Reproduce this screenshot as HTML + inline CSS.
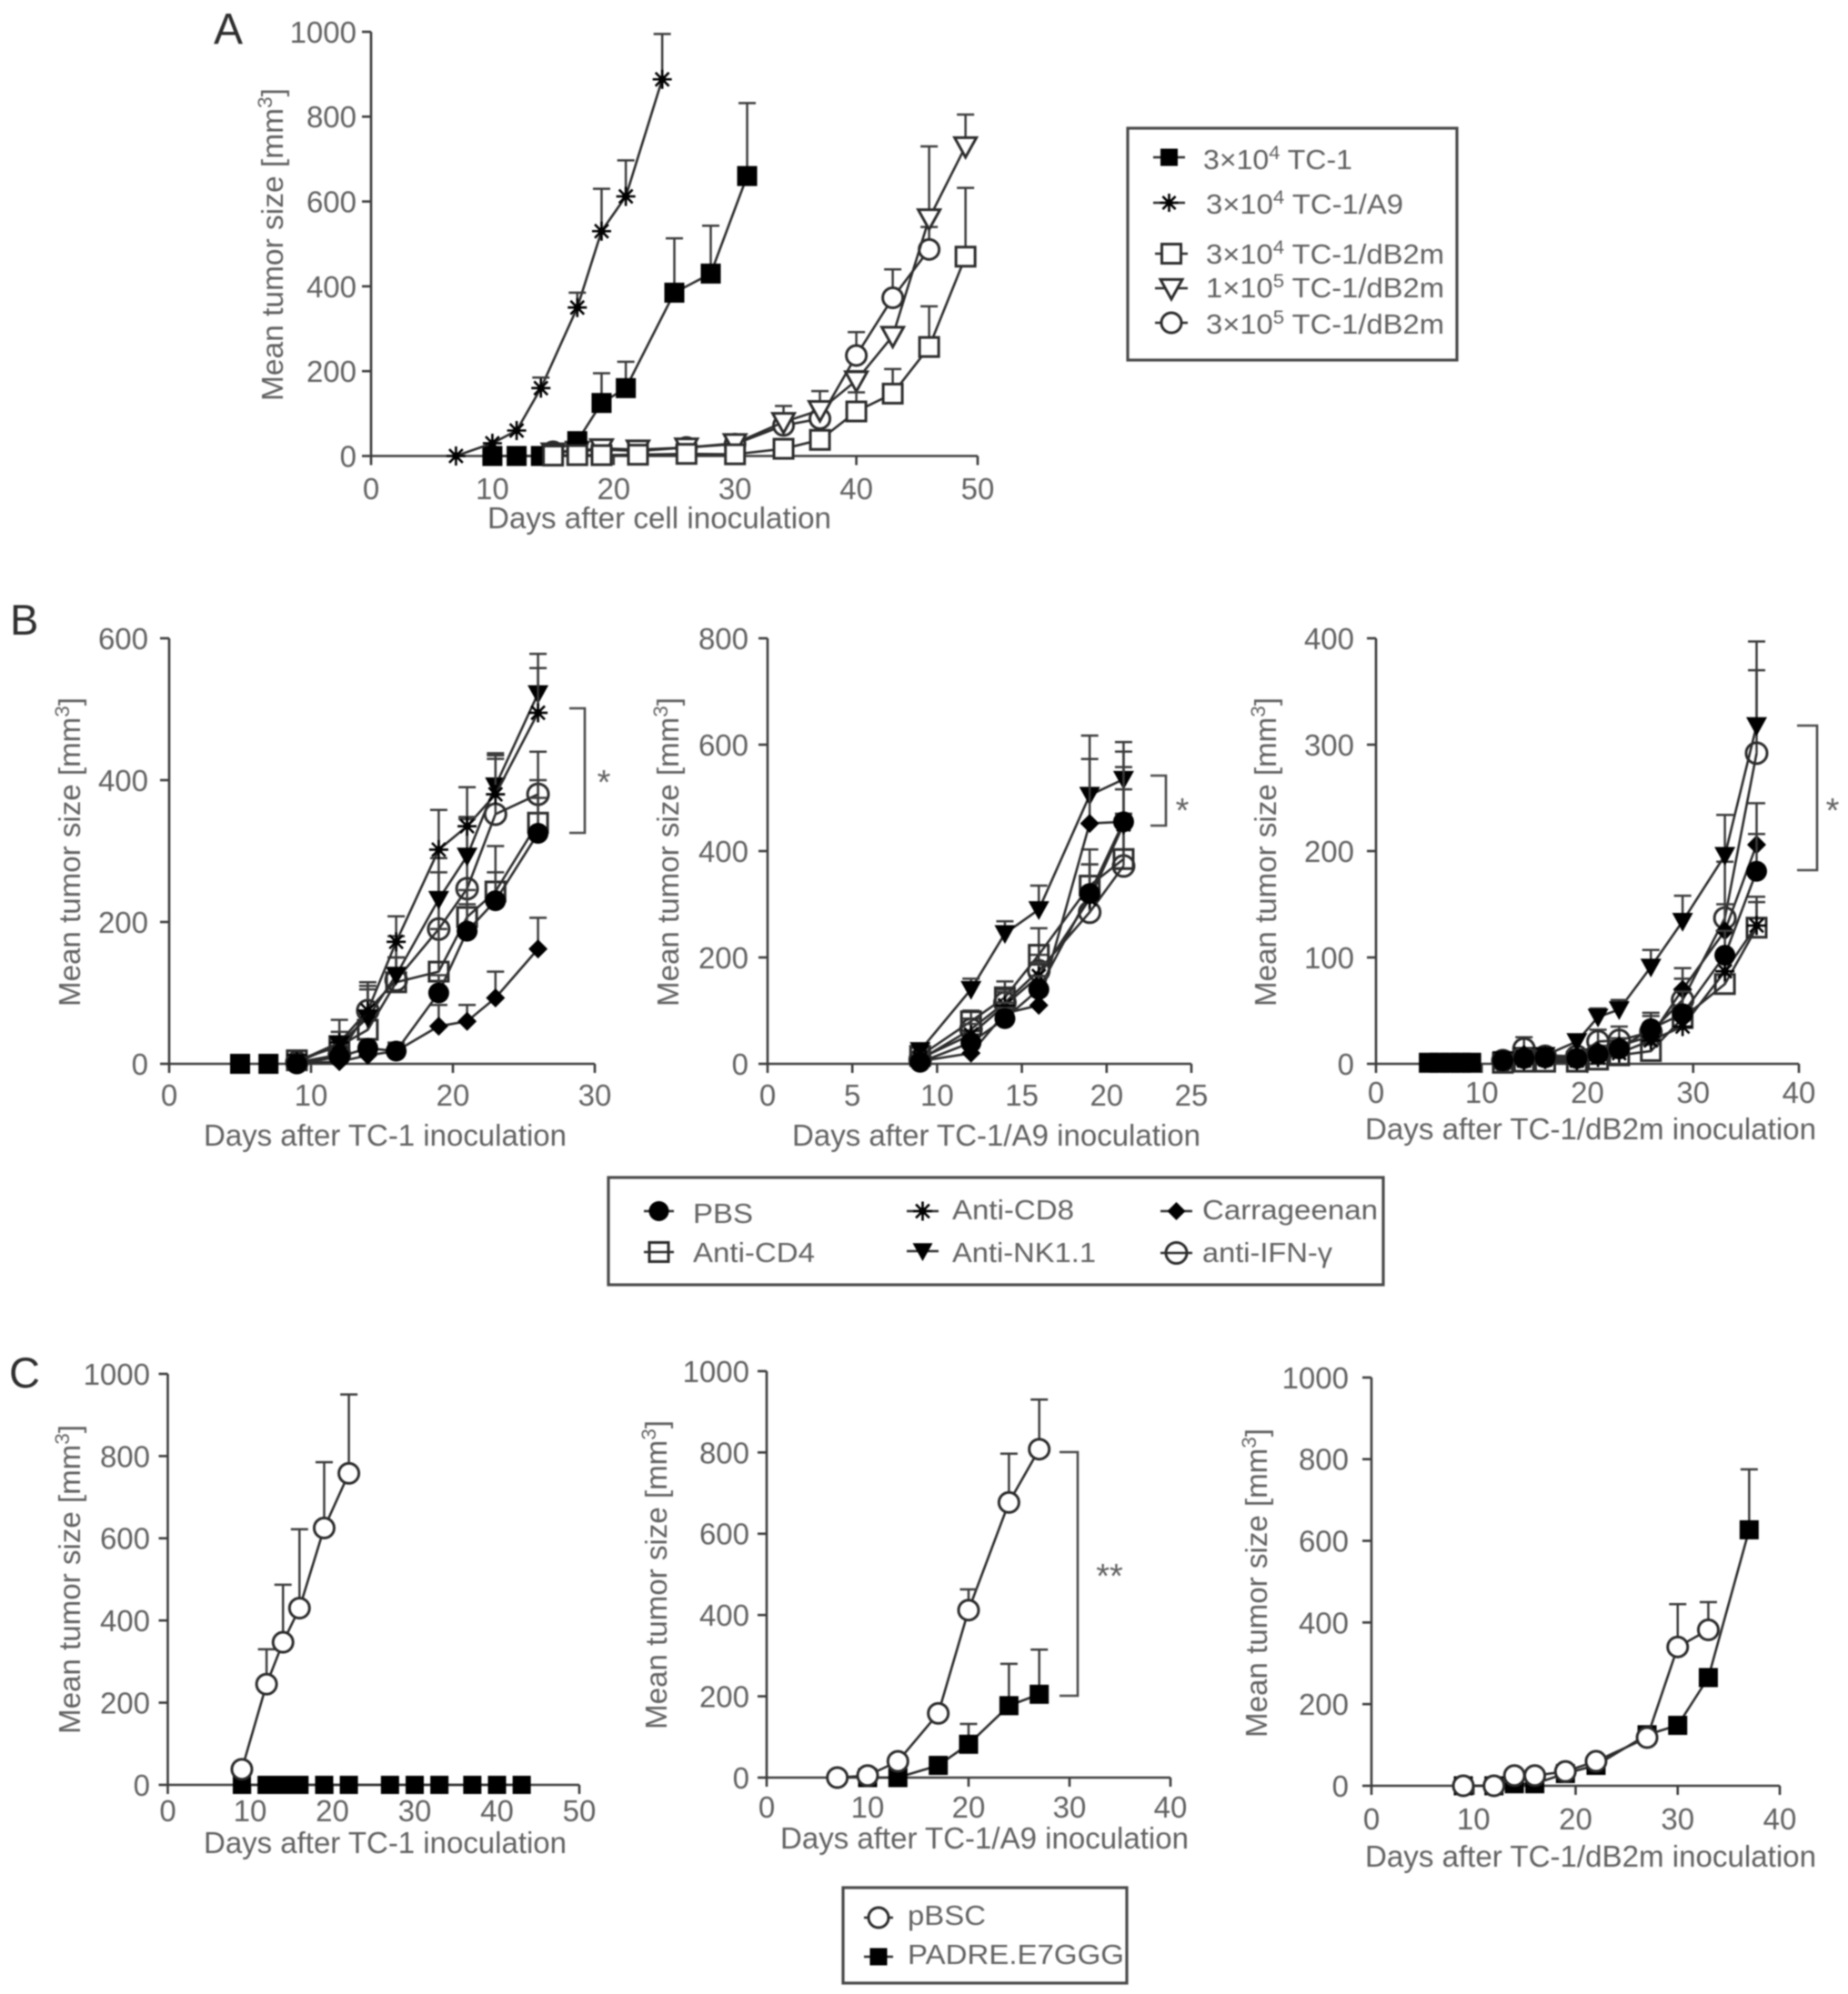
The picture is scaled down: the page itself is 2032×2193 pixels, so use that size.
<!DOCTYPE html>
<html lang="en">
<head>
<meta charset="utf-8">
<title>Mean tumor size charts</title>
<style>
html,body{margin:0;padding:0;background:#fff}
svg{display:block;filter:blur(.7px)}
text{font-family:"Liberation Sans",sans-serif;fill:#626262}
</style>
</head>
<body>
<svg id="figure" xmlns="http://www.w3.org/2000/svg" width="2032" height="2193" viewBox="0 0 2032 2193"></svg>
<script>
// ---------- Panel A data ----------
const aXTicks = [0, 10, 20, 30, 40, 50];
const aYTicks = [0, 200, 400, 600, 800, 1000];
const aTc1Days = [10, 12, 14, 17, 19, 21, 25, 28, 31];
const aTc1Means = [0, 0, 0, 35, 125, 160, 385, 430, 660];
const aTc1Tops = [null, null, null, null, 195, 222, 513, 543, 832];
const aA9Days = [7, 10, 12, 14, 17, 19, 21, 24];
const aA9Means = [0, 30, 60, 160, 350, 530, 612, 888];
const aA9Tops = [null, null, null, 185, 385, 630, 697, 995];
const aCircleDays = [15, 17, 19, 22, 26, 30, 34, 37, 40, 43, 46];
const aCircleMeans = [10, 12, 15, 12, 20, 28, 72, 88, 237, 373, 487];
const aCircleTops = [null, null, null, null, null, 35, 100, 120, 292, 440, 540];
const aTriDays = [15, 17, 19, 22, 26, 30, 34, 37, 40, 43, 46, 49];
const aTriMeans = [8, 12, 18, 15, 20, 30, 80, 108, 178, 283, 560, 730];
const aTriTops = [null, null, null, null, null, 40, 118, 153, 200, 298, 730, 805];
const aSquareDays = [15, 17, 19, 22, 26, 30, 34, 37, 40, 43, 46, 49];
const aSquareMeans = [1, 2, 2, 3, 5, 4, 17, 38, 105, 147, 257, 470];
const aSquareTops = [null, null, null, null, null, null, null, 50, 150, 205, 353, 632];

// ---------- Panel B data ----------
const b1XTicks = [0, 10, 20, 30];
const b1YTicks = [0, 200, 400, 600];
const b1BaseDays = [5, 7];
const b1BaseMeans = [0, 0];
const b1Days = [9, 12, 14, 16, 19, 21, 23, 26];
const b1Pbs = [0, 10, 22, 18, 100, 187, 230, 325];
const b1PbsTops = [null, 15, 30, 28, 125, 225, 270, 375];
const b1Cd4 = [5, 25, 48, 115, 130, 207, 243, 340];
const b1Cd4Tops = [12, 35, 70, 150, 190, 245, 307, 400];
const b1Cd8 = [3, 30, 75, 172, 302, 335, 380, 495];
const b1Cd8Tops = [10, 62, 115, 208, 358, 348, 435, 558];
const b1Nk = [2, 28, 65, 125, 232, 293, 392, 522];
const b1NkTops = [8, 45, 105, 180, 290, 390, 438, 578];
const b1Car = [1, 3, 12, 18, 53, 60, 93, 162];
const b1CarTops = [null, 8, 20, 30, 83, 83, 130, 206];
const b1Ifn = [2, 13, 75, 118, 190, 247, 352, 380];
const b1IfnTops = [8, 25, 110, 150, 270, 345, 430, 440];

const b2XTicks = [0, 5, 10, 15, 20, 25];
const b2YTicks = [0, 200, 400, 600, 800];
const b2Days = [9, 12, 14, 16, 19, 21];
const b2Pbs = [3, 40, 85, 140, 320, 455];
const b2PbsTops = [8, 55, 105, 165, 375, 470];
const b2Cd4 = [15, 80, 125, 205, 335, 385];
const b2Cd4Tops = [30, 100, 155, 255, 403, 470];
const b2Cd8 = [10, 55, 110, 165, 310, 450];
const b2Cd8Tops = [20, 75, 135, 190, 375, 516];
const b2Nk = [25, 140, 245, 290, 505, 535];
const b2NkTops = [35, 160, 268, 335, 617, 605];
const b2Car = [5, 20, 95, 110, 452, 455];
const b2CarTops = [10, 30, 115, 130, 573, 558];
const b2Ifn = [8, 65, 115, 175, 285, 372];
const b2IfnTops = [15, 85, 140, 205, 330, 587];

const b3XTicks = [0, 10, 20, 30, 40];
const b3YTicks = [0, 100, 200, 300, 400];
const b3BaseDays = [5, 6, 7, 8, 9];
const b3BaseMeans = [1, 1, 1, 1, 1];
const b3Days = [12, 14, 16, 19, 21, 23, 26, 29, 33, 36];
const b3Pbs = [3, 5, 6, 5, 9, 14, 33, 47, 102, 181];
const b3PbsTops = [6, 9, 10, 9, 13, 20, 45, 68, 125, 216];
const b3Cd4 = [1, 2, 2, 2, 4, 8, 12, 43, 75, 128];
const b3Cd4Tops = [4, 5, 5, 4, 7, 12, 18, 55, 100, 157];
const b3Cd8 = [2, 3, 4, 3, 6, 10, 22, 35, 87, 130];
const b3Cd8Tops = [5, 6, 7, 6, 9, 14, 30, 45, 105, 152];
const b3Nk = [4, 8, 8, 21, 44, 51, 91, 134, 196, 318];
const b3NkTops = [10, 14, 14, 27, 52, 60, 107, 158, 234, 397];
const b3Car = [4, 9, 8, 7, 12, 17, 26, 70, 125, 206];
const b3CarTops = [9, 14, 12, 12, 17, 24, 38, 90, 150, 245];
const b3Ifn = [3, 14, 7, 7, 21, 22, 30, 60, 137, 292];
const b3IfnTops = [8, 25, 14, 13, 32, 35, 48, 80, 190, 370];

// ---------- Panel C data ----------
const c1XTicks = [0, 10, 20, 30, 40, 50];
const c1YTicks = [0, 200, 400, 600, 800, 1000];
const c1PadreDays = [9, 12, 13, 14, 15, 16, 19, 22, 27, 30, 33, 37, 40, 43];
const c1PadreMeans = [0, 0, 0, 0, 0, 0, 0, 0, 0, 0, 0, 0, 0, 0];
const c1PbscDays = [9, 12, 14, 16, 19, 22];
const c1PbscMeans = [38, 245, 347, 430, 625, 758];
const c1PbscTops = [null, 330, 487, 622, 785, 950];

const c2XTicks = [0, 10, 20, 30, 40];
const c2YTicks = [0, 200, 400, 600, 800, 1000];
const c2PadreDays = [10, 13, 17, 20, 24, 27];
const c2PadreMeans = [0, 0, 30, 82, 177, 205];
const c2PadreTops = [null, null, null, 132, 280, 315];
const c2PbscDays = [7, 10, 13, 17, 20, 24, 27];
const c2PbscMeans = [0, 5, 40, 158, 412, 677, 808];
const c2PbscTops = [null, null, null, null, 463, 797, 930];

const c3XTicks = [0, 10, 20, 30, 40];
const c3YTicks = [0, 200, 400, 600, 800, 1000];
const c3PadreDays = [9, 12, 14, 16, 19, 22, 27, 30, 33, 37];
const c3PadreMeans = [0, 0, 5, 5, 30, 50, 125, 148, 265, 627];
const c3PadreTops = [null, null, null, null, null, null, null, null, null, 775];
const c3PbscDays = [9, 12, 14, 16, 19, 22, 27, 30, 33];
const c3PbscMeans = [0, 0, 25, 25, 35, 60, 118, 340, 382];
const c3PbscTops = [null, null, null, null, null, null, null, 445, 450];

// ---------- Drawing helpers ----------
const NS = 'http://www.w3.org/2000/svg';
const INK = '#2c2c2c';
const root = document.getElementById('figure');

function mk(tag, attrs, parent) {
  const el = document.createElementNS(NS, tag);
  for (const k in attrs) el.setAttribute(k, attrs[k]);
  (parent || root).appendChild(el);
  return el;
}

function group(name, parent) {
  const el = mk('g', {}, parent);
  
  
  return el;
}

function label(parent, name, str, x, y, size, opts) {
  const o = opts || {};
  const el = mk('text', { x: x, y: y, 'font-size': size, 'text-anchor': o.anchor || 'start' }, parent);
  
  
  if (o.rotate) el.setAttribute('transform', 'rotate(-90 ' + x + ' ' + y + ')');
  if (o.width) {
    el.setAttribute('textLength', o.width);
    el.setAttribute('lengthAdjust', 'spacingAndGlyphs');
  }
  if (o.dy) el.setAttribute('dy', o.dy);
  if (o.fill) el.style.fill = o.fill;
  if (o.sup) {
    el.appendChild(document.createTextNode(str));
    const s = mk('tspan', { dy: -size * 0.36, 'font-size': size * 0.68 }, el);
    s.textContent = o.sup;
    const after = mk('tspan', { dy: size * 0.36, 'font-size': size }, el);
    after.textContent = o.after || '';
  } else {
    el.textContent = str;
  }
  return el;
}

function marker(parent, kind, cx, cy, size, name) {
  const r = size / 2;
  const sw = 3;
  const g = mk('g', {}, parent);
  
  
  if (kind === 'fsquare') {
    mk('rect', { x: cx - r, y: cy - r, width: size, height: size, fill: '#000' }, g);
  } else if (kind === 'osquare' || kind === 'tsquare') {
    mk('rect', { x: cx - r, y: cy - r, width: size, height: size, fill: kind === 'osquare' ? '#fff' : 'none', stroke: INK, 'stroke-width': sw }, g);
  } else if (kind === 'fcircle') {
    mk('circle', { cx: cx, cy: cy, r: r, fill: '#000' }, g);
  } else if (kind === 'ocircle' || kind === 'tcircle') {
    mk('circle', { cx: cx, cy: cy, r: r, fill: kind === 'ocircle' ? '#fff' : 'none', stroke: INK, 'stroke-width': sw }, g);
  } else if (kind === 'otri') {
    mk('polygon', { points: [cx - r, cy - r * 0.8, cx + r, cy - r * 0.8, cx, cy + r].join(' '), fill: '#fff', stroke: INK, 'stroke-width': sw }, g);
  } else if (kind === 'ftri') {
    mk('polygon', { points: [cx - r, cy - r * 0.8, cx + r, cy - r * 0.8, cx, cy + r].join(' '), fill: '#000' }, g);
  } else if (kind === 'fdiamond') {
    mk('polygon', { points: [cx - r, cy, cx, cy - r, cx + r, cy, cx, cy + r].join(' '), fill: '#000' }, g);
  } else if (kind === 'star') {
    [0, 45, 90, 135].forEach(function (a) {
      const dx = Math.cos(a * Math.PI / 180) * r, dy = Math.sin(a * Math.PI / 180) * r;
      mk('line', { x1: cx - dx, y1: cy - dy, x2: cx + dx, y2: cy + dy, stroke: '#000', 'stroke-width': 2.6 }, g);
    });
    mk('circle', { cx: cx, cy: cy, r: r * 0.4, fill: '#000' }, g);
  }
}

function drawChart(p) {
  const g = group(p.name);
  const xMax = p.xTicks[p.xTicks.length - 1];
  const yMax = p.yTicks[p.yTicks.length - 1];
  const sx = function (v) { return p.x0 + (v / xMax) * (p.x1 - p.x0); };
  const sy = function (v) { return p.y0 - (v / yMax) * (p.y0 - p.y1); };
  const axes = group('axes', g);
  const axisStyle = { stroke: '#3c3c3c', 'stroke-width': 2.6, fill: 'none' };
  const xAxis = mk('line', Object.assign({ x1: p.x0, y1: p.y0, x2: p.x1, y2: p.y0 }, axisStyle), axes);
  
  
  const yAxis = mk('line', Object.assign({ x1: p.x0, y1: p.y0, x2: p.x0, y2: p.y1 }, axisStyle), axes);
  
  
  p.xTicks.forEach(function (t) {
    const tick = mk('line', Object.assign({ x1: sx(t), y1: p.y0, x2: sx(t), y2: p.y0 + 10 }, axisStyle), axes);
    
    
    label(axes, 'x-tick-label', String(t), sx(t), p.xLabelY, p.tickSize, { anchor: 'middle', dy: '.36em' });
  });
  p.yTicks.forEach(function (t) {
    const tick = mk('line', Object.assign({ x1: p.x0 - 10, y1: sy(t), x2: p.x0, y2: sy(t) }, axisStyle), axes);
    
    
    label(axes, 'y-tick-label', String(t), p.yLabelRight, sy(t), p.tickSize, { anchor: 'end', dy: '.36em' });
  });
  label(g, 'x-axis-title', p.xTitle, p.xTitleX, p.xTitleY, 33, { width: p.xTitleW, dy: '.36em' });
  label(g, 'y-axis-title', 'Mean tumor size [mm', p.yTitleX, p.yTitleBottom, 33, { rotate: true, width: p.yTitleH, sup: '3', after: ']' });

  p.series.forEach(function (s) {
    const sg = group('series-' + s.name, g);
    if (!s.noLine) {
      const line = mk('polyline', { points: s.days.map(function (d, i) { return sx(d) + ',' + sy(s.means[i]); }).join(' '), fill: 'none', stroke: INK, 'stroke-width': 2.6 }, sg);
      
      
    }
    if (s.tops) {
      s.days.forEach(function (d, i) {
        if (s.tops[i] === null) return;
        const bar = mk('path', { d: 'M' + sx(d) + ' ' + sy(s.means[i]) + 'V' + sy(s.tops[i]) + 'm-9.5 0h19', fill: 'none', stroke: '#3c3c3c', 'stroke-width': 2.5 }, sg);
        
        
      });
    }
    s.days.forEach(function (d, i) {
      marker(sg, s.kind, sx(d), sy(s.means[i]), s.size, 'data-point');
    });
  });
}

function bracket(name, xl, xr, yt, yb, stars, sx, sy) {
  const g = group(name);
  const b = mk('path', { d: 'M' + xl + ' ' + yt + 'H' + xr + 'V' + yb + 'H' + xl, fill: 'none', stroke: '#4a4a4a', 'stroke-width': 2.6 }, g);
  
  
  label(g, 'significance-stars', stars, sx, sy + 20, 38, { anchor: 'middle' });
}

function legendBox(name, x, y, w, h) {
  const g = group(name);
  const r = mk('rect', { x: x, y: y, width: w, height: h, fill: '#fff', stroke: '#4a4a4a', 'stroke-width': 3.2 }, g);
  
  
  return g;
}

function legendEntry(g, kind, size, lx1, lx2, my, text, tx, tWidth, base, sup, after) {
  const e = group('legend-entry', g);
  const l = mk('line', { x1: lx1, y1: my, x2: lx2, y2: my, stroke: INK, 'stroke-width': 2.4 }, e);
  
  
  marker(e, kind, (lx1 + lx2) / 2, my, size, 'legend-marker');
  label(e, 'legend-label', text, tx, base, 31, { width: tWidth, sup: sup, after: after });
}

// ---------- Panel letters ----------
label(root, 'panel-label-a', 'A', 235, 48, 48, { fill: '#2e2e2e' });
label(root, 'panel-label-b', 'B', 11, 698, 47, { fill: '#2e2e2e' });
label(root, 'panel-label-c', 'C', 10, 1526, 47, { fill: '#2e2e2e' });

// ---------- Panel A ----------
drawChart({
  name: 'panel-a-chart', x0: 408, x1: 1075, y0: 501.5, y1: 35,
  xTicks: aXTicks, yTicks: aYTicks, tickSize: 33, xLabelY: 537, yLabelRight: 392,
  xTitle: 'Days after cell inoculation', xTitleX: 536, xTitleY: 569, xTitleW: 378,
  yTitleX: 311, yTitleBottom: 441, yTitleH: 344,
  series: [
    { name: 'dB2m-3e5', kind: 'ocircle', size: 22, days: aCircleDays, means: aCircleMeans, tops: aCircleTops },
    { name: 'dB2m-1e5', kind: 'otri', size: 24, days: aTriDays, means: aTriMeans, tops: aTriTops },
    { name: 'tc1', kind: 'fsquare', size: 22, days: aTc1Days, means: aTc1Means, tops: aTc1Tops },
    { name: 'tc1-a9', kind: 'star', size: 21, days: aA9Days, means: aA9Means, tops: aA9Tops },
    { name: 'dB2m-3e4', kind: 'osquare', size: 21, days: aSquareDays, means: aSquareMeans, tops: aSquareTops }
  ]
});

// ---------- Panel B ----------
function treatmentSeries(days, pbs, pbsT, cd4, cd4T, cd8, cd8T, nk, nkT, car, carT, ifn, ifnT) {
  return [
    { name: 'anti-ifn-gamma', kind: 'tcircle', size: 23, days: days, means: ifn, tops: ifnT },
    { name: 'anti-cd4', kind: 'tsquare', size: 21, days: days, means: cd4, tops: cd4T },
    { name: 'anti-nk1-1', kind: 'ftri', size: 23, days: days, means: nk, tops: nkT },
    { name: 'anti-cd8', kind: 'star', size: 21, days: days, means: cd8, tops: cd8T },
    { name: 'carrageenan', kind: 'fdiamond', size: 21, days: days, means: car, tops: carT },
    { name: 'pbs', kind: 'fcircle', size: 23, days: days, means: pbs, tops: pbsT }
  ];
}

drawChart({
  name: 'panel-b-tc1-chart', x0: 186, x1: 654, y0: 1170, y1: 702,
  xTicks: b1XTicks, yTicks: b1YTicks, tickSize: 33, xLabelY: 1204, yLabelRight: 163,
  xTitle: 'Days after TC-1 inoculation', xTitleX: 224, xTitleY: 1248, xTitleW: 399,
  yTitleX: 88, yTitleBottom: 1107, yTitleH: 340,
  series: [{ name: 'baseline-overlap', kind: 'fsquare', size: 22, noLine: true, days: b1BaseDays, means: b1BaseMeans }]
    .concat(treatmentSeries(b1Days, b1Pbs, b1PbsTops, b1Cd4, b1Cd4Tops, b1Cd8, b1Cd8Tops, b1Nk, b1NkTops, b1Car, b1CarTops, b1Ifn, b1IfnTops))
});
drawChart({
  name: 'panel-b-a9-chart', x0: 844, x1: 1310, y0: 1170, y1: 702,
  xTicks: b2XTicks, yTicks: b2YTicks, tickSize: 33, xLabelY: 1204, yLabelRight: 823,
  xTitle: 'Days after TC-1/A9 inoculation', xTitleX: 871, xTitleY: 1248, xTitleW: 449,
  yTitleX: 746, yTitleBottom: 1107, yTitleH: 340,
  series: treatmentSeries(b2Days, b2Pbs, b2PbsTops, b2Cd4, b2Cd4Tops, b2Cd8, b2Cd8Tops, b2Nk, b2NkTops, b2Car, b2CarTops, b2Ifn, b2IfnTops)
});
drawChart({
  name: 'panel-b-db2m-chart', x0: 1513, x1: 1978, y0: 1170, y1: 702,
  xTicks: b3XTicks, yTicks: b3YTicks, tickSize: 33, xLabelY: 1201, yLabelRight: 1489,
  xTitle: 'Days after TC-1/dB2m inoculation', xTitleX: 1501, xTitleY: 1241, xTitleW: 496,
  yTitleX: 1403, yTitleBottom: 1107, yTitleH: 340,
  series: [{ name: 'baseline-overlap', kind: 'fsquare', size: 22, noLine: true, days: b3BaseDays, means: b3BaseMeans }]
    .concat(treatmentSeries(b3Days, b3Pbs, b3PbsTops, b3Cd4, b3Cd4Tops, b3Cd8, b3Cd8Tops, b3Nk, b3NkTops, b3Car, b3CarTops, b3Ifn, b3IfnTops))
});

// ---------- Panel C ----------
drawChart({
  name: 'panel-c-tc1-chart', x0: 184.5, x1: 637, y0: 1963, y1: 1511,
  xTicks: c1XTicks, yTicks: c1YTicks, tickSize: 33, xLabelY: 1991, yLabelRight: 165,
  xTitle: 'Days after TC-1 inoculation', xTitleX: 224, xTitleY: 2026, xTitleW: 399,
  yTitleX: 88, yTitleBottom: 1907, yTitleH: 340,
  series: [
    { name: 'padre-e7ggg', kind: 'fsquare', size: 20, days: c1PadreDays, means: c1PadreMeans },
    { name: 'pbsc', kind: 'ocircle', size: 22, days: c1PbscDays, means: c1PbscMeans, tops: c1PbscTops }
  ]
});
drawChart({
  name: 'panel-c-a9-chart', x0: 843, x1: 1287, y0: 1955, y1: 1508,
  xTicks: c2XTicks, yTicks: c2YTicks, tickSize: 33, xLabelY: 1987, yLabelRight: 824,
  xTitle: 'Days after TC-1/A9 inoculation', xTitleX: 858, xTitleY: 2021, xTitleW: 449,
  yTitleX: 733, yTitleBottom: 1902, yTitleH: 340,
  series: [
    { name: 'padre-e7ggg', kind: 'fsquare', size: 21, days: c2PadreDays, means: c2PadreMeans, tops: c2PadreTops },
    { name: 'pbsc', kind: 'ocircle', size: 22, days: c2PbscDays, means: c2PbscMeans, tops: c2PbscTops }
  ]
});
drawChart({
  name: 'panel-c-db2m-chart', x0: 1508, x1: 1957, y0: 1964, y1: 1515,
  xTicks: c3XTicks, yTicks: c3YTicks, tickSize: 33, xLabelY: 2000, yLabelRight: 1483,
  xTitle: 'Days after TC-1/dB2m inoculation', xTitleX: 1501, xTitleY: 2041, xTitleW: 496,
  yTitleX: 1393, yTitleBottom: 1911, yTitleH: 340,
  series: [
    { name: 'padre-e7ggg', kind: 'fsquare', size: 21, days: c3PadreDays, means: c3PadreMeans, tops: c3PadreTops },
    { name: 'pbsc', kind: 'ocircle', size: 22, days: c3PbscDays, means: c3PbscMeans, tops: c3PbscTops }
  ]
});

// ---------- Significance brackets ----------
bracket('significance-b-tc1', 626, 643, 779, 916, '*', 664, 853);
bracket('significance-b-a9', 1265, 1282, 853, 908, '*', 1300, 884);
bracket('significance-b-db2m', 1976, 1998, 798, 957, '*', 2015, 884);
bracket('significance-c-a9', 1165, 1185, 1597, 1865, '**', 1220, 1726);

// ---------- Legends ----------
const legA = legendBox('legend-panel-a', 1240, 141, 362, 255);
legendEntry(legA, 'fsquare', 19, 1268, 1303, 173, '3×10', 1323, 164, 186, '4', ' TC-1');
legendEntry(legA, 'star', 20, 1268, 1303, 223, '3×10', 1326, 217, 235, '4', ' TC-1/A9');
legendEntry(legA, 'osquare', 21, 1270, 1306, 279, '3×10', 1326, 262, 290, '4', ' TC-1/dB2m');
legendEntry(legA, 'otri', 24, 1270, 1306, 317, '1×10', 1326, 262, 327, '5', ' TC-1/dB2m');
legendEntry(legA, 'ocircle', 22, 1270, 1306, 355, '3×10', 1326, 262, 367, '5', ' TC-1/dB2m');

const legB = legendBox('legend-panel-b', 669, 1295, 852, 118);
legendEntry(legB, 'fcircle', 22, 708, 741, 1332, 'PBS', 762, 66, 1345);
legendEntry(legB, 'tsquare', 21, 708, 741, 1377, 'Anti-CD4', 762, 134, 1388);
legendEntry(legB, 'star', 21, 997, 1032, 1332, 'Anti-CD8', 1047, 134, 1341);
legendEntry(legB, 'ftri', 22, 997, 1032, 1376, 'Anti-NK1.1', 1047, 158, 1388);
legendEntry(legB, 'fdiamond', 20, 1276, 1311, 1332, 'Carrageenan', 1322, 193, 1341);
legendEntry(legB, 'tcircle', 23, 1276, 1311, 1378, 'anti-IFN-γ', 1322, 143, 1388);

const legC = legendBox('legend-panel-c', 927, 2076, 312, 105);
legendEntry(legC, 'ocircle', 22, 950, 982, 2109, 'pBSC', 998, 86, 2117);
legendEntry(legC, 'fsquare', 19, 950, 982, 2152, 'PADRE.E7GGG', 998, 238, 2160);
</script>
</body>
</html>
